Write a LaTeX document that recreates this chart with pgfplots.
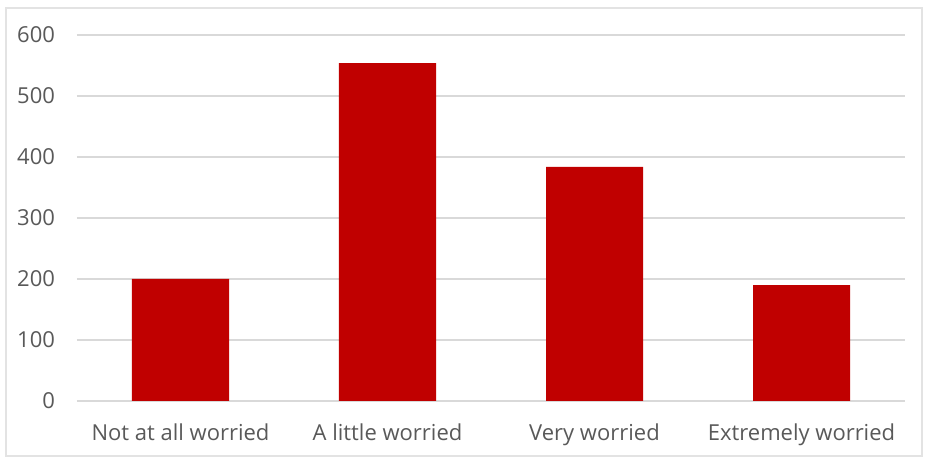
\documentclass[border=0pt]{standalone}
\usepackage{pgfplots}
\pgfplotsset{compat=1.18}
\usepackage{fontspec}
\setmainfont{Open Sans}
\definecolor{barred}{HTML}{C00000}
\definecolor{gridgray}{HTML}{D9D9D9}
\definecolor{txtgray}{HTML}{595959}
\definecolor{framegray}{HTML}{E3E3E3}

\begin{document}
\begin{tikzpicture}
% 1 px of the reference = 0.5pt
\path[use as bounding box] (0,0) rectangle (463pt,229.5pt);
\draw[framegray, line width=0.6pt] (3pt,1.5pt) rectangle (461pt,225.5pt);
\begin{axis}[
    at={(38.5pt,29pt)}, anchor=south west,
    scale only axis,
    width=414pt, height=183pt,
    xmin=-0.5, xmax=3.5,
    ymin=0, ymax=600,
    ytick={0,100,...,600},
    xtick=data,
    xticklabels={Not at all worried, A little worried, Very worried, Extremely worried},
    axis line style={draw=none},
    major tick length=0pt,
    ymajorgrids,
    grid style={gridgray, line width=0.8pt},
    ybar, bar width=48.5pt,
    tick label style={font=\fontsize{11}{13}\selectfont, text=txtgray},
    /pgf/number format/assume math mode=true,
    yticklabel style={xshift=-7.5pt},
    xticklabel style={yshift=-8pt},
]
\addplot[fill=barred, draw=none] coordinates {
    (0,200) (1,554) (2,384) (3,190)
};
\end{axis}
\end{tikzpicture}
\end{document}
